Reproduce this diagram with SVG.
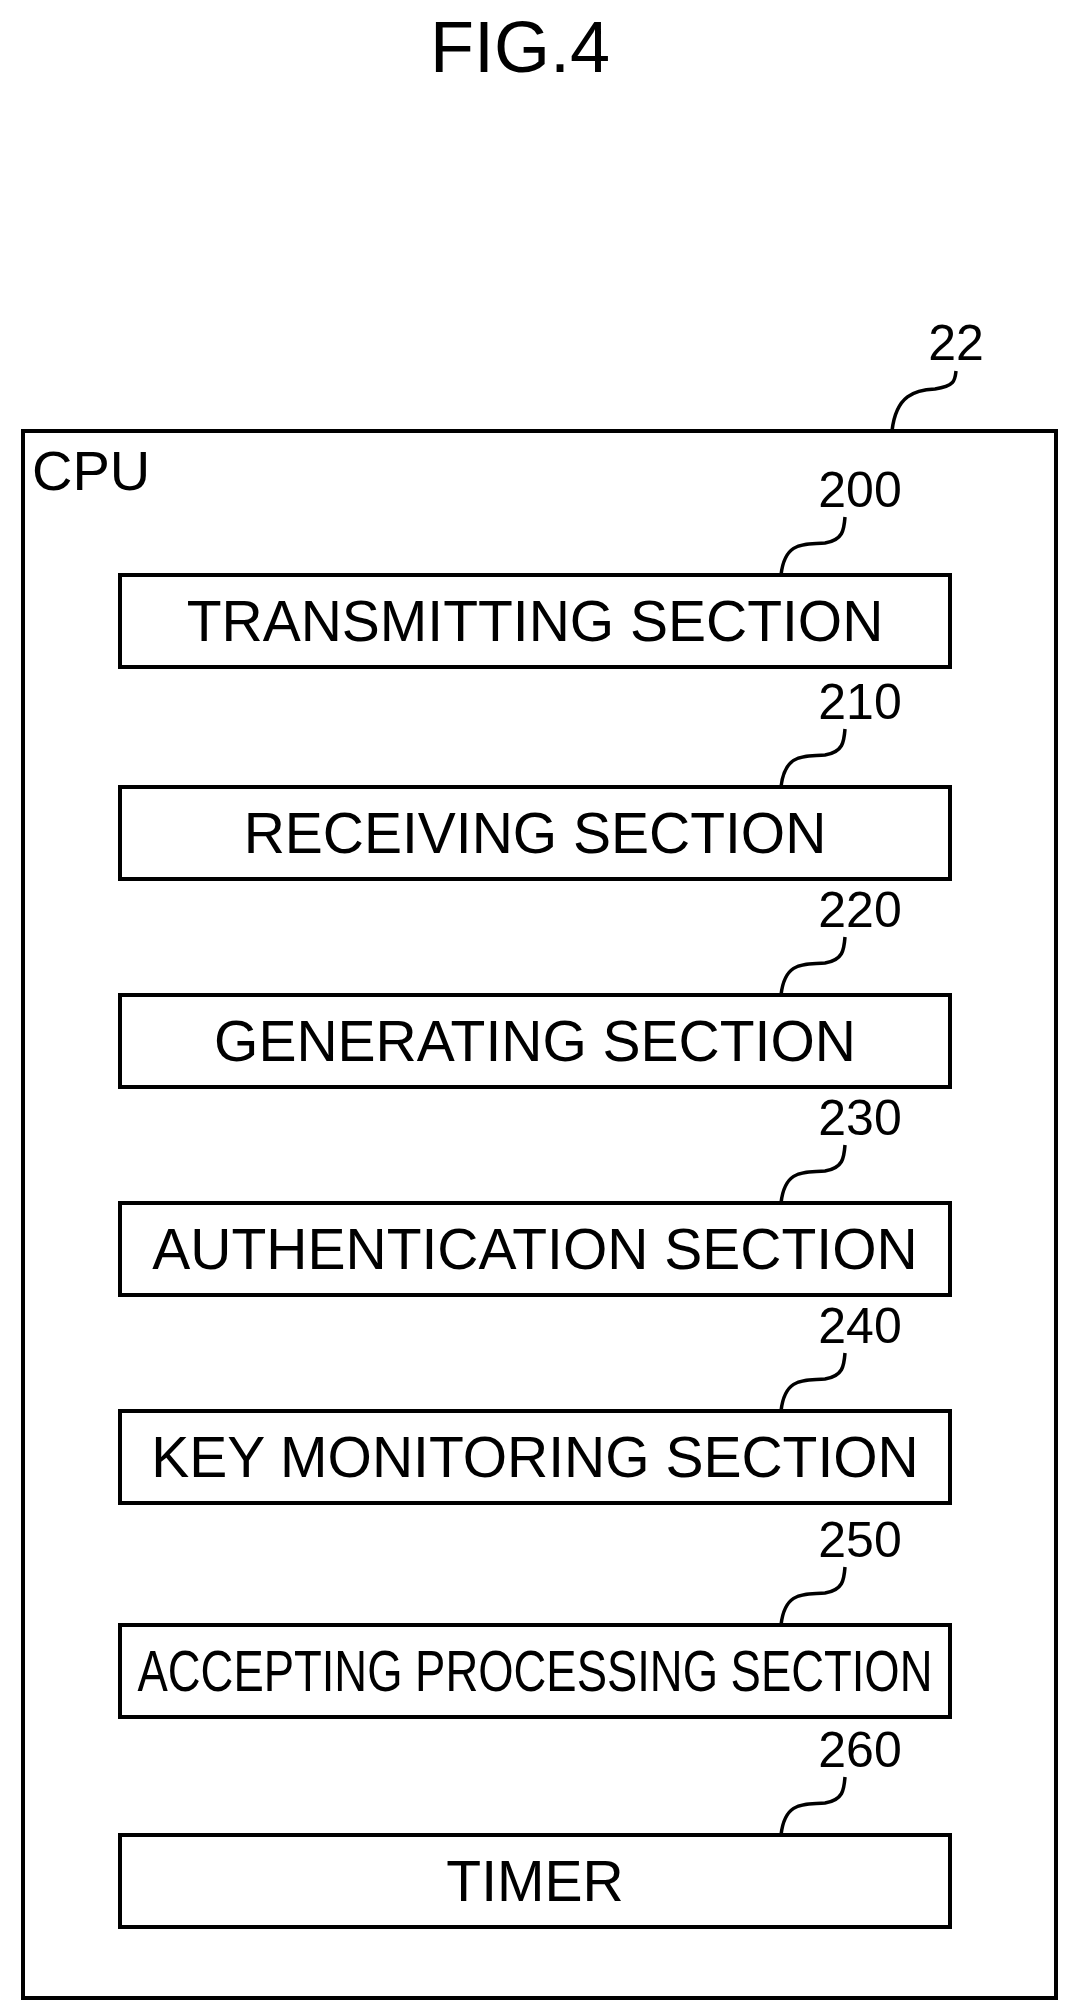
<svg xmlns="http://www.w3.org/2000/svg" width="1079" height="2015" viewBox="0 0 1079 2015">
<style>
.b{fill:#fff;stroke:#000;stroke-width:4}
.l{fill:none;stroke:#000;stroke-width:3.5}
text{font-family:"Liberation Sans",Arial,sans-serif;fill:#000}
.t{font-size:57px;text-anchor:middle}
.n{font-size:50px;text-anchor:middle}
</style>
<rect width="1079" height="2015" fill="#fff"/>
<text x="520" y="72" font-size="72" text-anchor="middle">FIG.4</text>
<g id="cpu">
<rect class="b" x="23" y="431" width="1033" height="1567"/>
<text x="32" y="490" font-size="56">CPU</text>
<text class="n" x="956" y="360">22</text>
<path class="l" d="M892,431 C896,395 915,390 935,389 C955,386 955,380 956,371"/>
</g>
<g id="n200"><rect class="b" x="120" y="575" width="830" height="92"/><text class="t" x="535" y="641">TRANSMITTING SECTION</text><text class="n" x="860" y="507">200</text><path class="l" d="M781,575 C785,540 805,545 825,543 C843,540 844,530 845,517"/></g>
<g id="n210"><rect class="b" x="120" y="787" width="830" height="92"/><text class="t" x="535" y="853">RECEIVING SECTION</text><text class="n" x="860" y="719">210</text><path class="l" d="M781,787 C785,752 805,757 825,755 C843,752 844,742 845,729"/></g>
<g id="n220"><rect class="b" x="120" y="995" width="830" height="92"/><text class="t" x="535" y="1061">GENERATING SECTION</text><text class="n" x="860" y="927">220</text><path class="l" d="M781,995 C785,960 805,965 825,963 C843,960 844,950 845,937"/></g>
<g id="n230"><rect class="b" x="120" y="1203" width="830" height="92"/><text class="t" x="535" y="1269" font-size="55">AUTHENTICATION SECTION</text><text class="n" x="860" y="1135">230</text><path class="l" d="M781,1203 C785,1168 805,1173 825,1171 C843,1168 844,1158 845,1145"/></g>
<g id="n240"><rect class="b" x="120" y="1411" width="830" height="92"/><text class="t" x="535" y="1477" font-size="56">KEY MONITORING SECTION</text><text class="n" x="860" y="1343">240</text><path class="l" d="M781,1411 C785,1376 805,1381 825,1379 C843,1376 844,1366 845,1353"/></g>
<g id="n250"><rect class="b" x="120" y="1625" width="830" height="92"/><text class="t" x="535" y="1691" textLength="795" lengthAdjust="spacingAndGlyphs">ACCEPTING PROCESSING SECTION</text><text class="n" x="860" y="1557">250</text><path class="l" d="M781,1625 C785,1590 805,1595 825,1593 C843,1590 844,1580 845,1567"/></g>
<g id="n260"><rect class="b" x="120" y="1835" width="830" height="92"/><text class="t" x="535" y="1901">TIMER</text><text class="n" x="860" y="1767">260</text><path class="l" d="M781,1835 C785,1800 805,1805 825,1803 C843,1800 844,1790 845,1777"/></g>
<g id="connectors"></g>
</svg>
